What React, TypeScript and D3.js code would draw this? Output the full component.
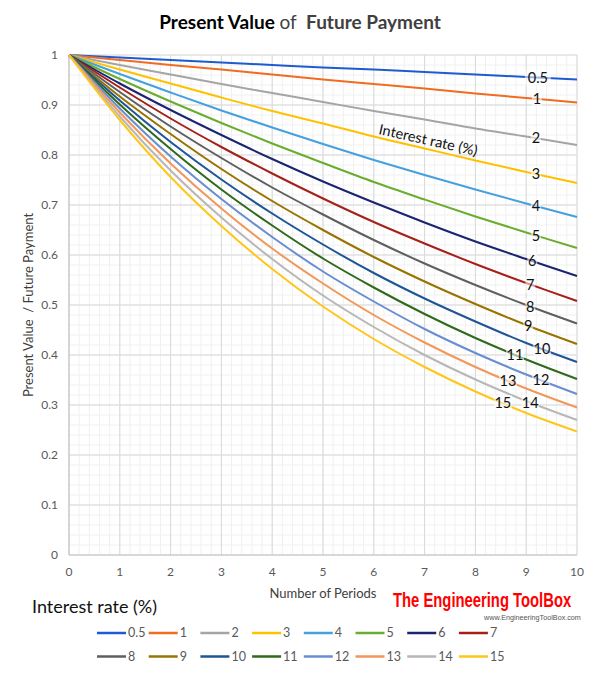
import React, { useEffect, useRef } from "react";
import * as d3 from "d3";

// periods on the x axis
const periods = [0, 1, 2, 3, 4, 5, 6, 7, 8, 9, 10];

// interest rates (%) and present value per unit of future payment, period 0..10
const rates = ["0.5", "1", "2", "3", "4", "5", "6", "7", "8", "9", "10", "11", "12", "13", "14", "15"];

const pv05 = [1, 0.995, 0.990, 0.985, 0.980, 0.975, 0.971, 0.966, 0.961, 0.956, 0.951];
const pv1 = [1, 0.990, 0.980, 0.971, 0.961, 0.951, 0.942, 0.933, 0.923, 0.914, 0.905];
const pv2 = [1, 0.980, 0.961, 0.942, 0.924, 0.906, 0.888, 0.871, 0.853, 0.837, 0.820];
const pv3 = [1, 0.971, 0.943, 0.915, 0.888, 0.863, 0.837, 0.813, 0.789, 0.766, 0.744];
const pv4 = [1, 0.962, 0.925, 0.889, 0.855, 0.822, 0.790, 0.760, 0.731, 0.703, 0.676];
const pv5 = [1, 0.952, 0.907, 0.864, 0.823, 0.784, 0.746, 0.711, 0.677, 0.645, 0.614];
const pv6 = [1, 0.943, 0.890, 0.840, 0.792, 0.747, 0.705, 0.665, 0.627, 0.592, 0.558];
const pv7 = [1, 0.935, 0.873, 0.816, 0.763, 0.713, 0.666, 0.623, 0.582, 0.544, 0.508];
const pv8 = [1, 0.926, 0.857, 0.794, 0.735, 0.681, 0.630, 0.583, 0.540, 0.500, 0.463];
const pv9 = [1, 0.917, 0.842, 0.772, 0.708, 0.650, 0.596, 0.547, 0.502, 0.460, 0.422];
const pv10 = [1, 0.909, 0.826, 0.751, 0.683, 0.621, 0.564, 0.513, 0.467, 0.424, 0.386];
const pv11 = [1, 0.901, 0.812, 0.731, 0.659, 0.593, 0.535, 0.482, 0.434, 0.391, 0.352];
const pv12 = [1, 0.893, 0.797, 0.712, 0.636, 0.567, 0.507, 0.452, 0.404, 0.361, 0.322];
const pv13 = [1, 0.885, 0.783, 0.693, 0.613, 0.543, 0.480, 0.425, 0.376, 0.333, 0.295];
const pv14 = [1, 0.877, 0.769, 0.675, 0.592, 0.519, 0.456, 0.400, 0.351, 0.308, 0.270];
const pv15 = [1, 0.870, 0.756, 0.658, 0.572, 0.497, 0.432, 0.376, 0.327, 0.284, 0.247];

const seriesValues = [pv05, pv1, pv2, pv3, pv4, pv5, pv6, pv7, pv8, pv9, pv10, pv11, pv12, pv13, pv14, pv15];

// where along the x axis each rate label sits on its curve
const labelAt = [9.23, 9.21, 9.19, 9.19, 9.19, 9.19, 9.12, 9.08, 9.08, 9.04, 9.31, 8.78, 9.29, 8.64, 9.08, 8.54];

const colors = [
  "#1f5bd0", "#ef6c22", "#a5a5a5", "#ffc000", "#45a0e0", "#6aad2e", "#1b2470", "#a52019",
  "#5f5f5f", "#997300", "#1f5596", "#2f6a1c", "#698ed0", "#f1975a", "#b7b7b7", "#ffc61a",
];

const yTicks = [0, 0.1, 0.2, 0.3, 0.4, 0.5, 0.6, 0.7, 0.8, 0.9, 1];

const W = 600;
const H = 677;
const FONT = "Lato, 'Open Sans', sans-serif";

const App: React.FC = () => {
  const svgRef = useRef<SVGSVGElement>(null);

  useEffect(() => {
    if (!svgRef.current) return;
    const svg = d3.select(svgRef.current);
    svg.selectAll("*").remove();

    const left = 69, right = 577, top = 55, bottom = 555;

    const x = d3.scaleLinear().domain([0, 10]).range([left, right]);
    const y = d3.scaleLinear().domain([0, 1]).range([bottom, top]);

    svg.append("rect").attr("width", W).attr("height", H).attr("fill", "#fff");

    // grid: minor then major
    const grid = svg.append("g");
    const minorX = d3.range(0, 10.001, 0.2);
    const minorY = d3.range(0, 1.0001, 0.02);
    grid.selectAll("line.mx").data(minorX).join("line")
      .attr("x1", d => x(d)).attr("x2", d => x(d))
      .attr("y1", top).attr("y2", bottom)
      .attr("stroke", "#f0f0f0").attr("stroke-width", 1);
    grid.selectAll("line.my").data(minorY).join("line")
      .attr("x1", left).attr("x2", right)
      .attr("y1", d => y(d)).attr("y2", d => y(d))
      .attr("stroke", "#f0f0f0").attr("stroke-width", 1);
    grid.selectAll("line.Mx").data(periods).join("line")
      .attr("x1", d => x(d)).attr("x2", d => x(d))
      .attr("y1", top).attr("y2", bottom)
      .attr("stroke", "#d9d9d9").attr("stroke-width", 1);
    grid.selectAll("line.My").data(yTicks).join("line")
      .attr("x1", left).attr("x2", right)
      .attr("y1", d => y(d)).attr("y2", d => y(d))
      .attr("stroke", "#d9d9d9").attr("stroke-width", 1);

    // axis lines
    svg.append("line").attr("x1", left).attr("x2", left).attr("y1", top).attr("y2", bottom)
      .attr("stroke", "#c8c8c8").attr("stroke-width", 1.2);
    svg.append("line").attr("x1", left).attr("x2", right).attr("y1", bottom).attr("y2", bottom)
      .attr("stroke", "#c8c8c8").attr("stroke-width", 1.2);

    // tick labels
    svg.append("g").selectAll("text").data(yTicks).join("text")
      .attr("x", left - 11).attr("y", d => y(d)).attr("dy", "0.35em")
      .attr("text-anchor", "end")
      .style("font-family", FONT).style("font-size", "12px").attr("fill", "#595959")
      .text(d => String(d));
    svg.append("g").selectAll("text").data(periods).join("text")
      .attr("x", d => x(d)).attr("y", bottom + 17).attr("dy", "0.35em")
      .attr("text-anchor", "middle")
      .style("font-family", FONT).style("font-size", "12px").attr("fill", "#595959")
      .text(d => String(d));

    // curves
    const line = d3.line<number>()
      .x((_, i) => x(periods[i]))
      .y(d => y(d))
      .curve(d3.curveCatmullRom.alpha(0.5));

    svg.append("g").selectAll("path").data(seriesValues).join("path")
      .attr("d", d => line(d))
      .attr("fill", "none")
      .attr("stroke", (_, i) => colors[i])
      .attr("stroke-width", 2);

    // rate labels sitting on the curves
    const valueAt = (vals: number[], t: number) => {
      const i = Math.min(Math.floor(t), vals.length - 2);
      const f = t - i;
      return vals[i] + (vals[i + 1] - vals[i]) * f;
    };
    const labels = svg.append("g");
    rates.forEach((r, i) => {
      const cx = x(labelAt[i]);
      const cy = y(valueAt(seriesValues[i], labelAt[i]));
      const w = r.length * 8 + 2;
      labels.append("rect")
        .attr("x", cx - w / 2).attr("y", cy - 8).attr("width", w).attr("height", 16)
        .attr("fill", "#fff").attr("opacity", 0.55);
      labels.append("text")
        .attr("x", cx).attr("y", cy).attr("dy", "0.35em")
        .attr("text-anchor", "middle")
        .style("font-family", FONT).style("font-size", "14.5px").attr("fill", "#111")
        .text(r);
    });

    svg.append("text")
      .attr("transform", "translate(378,134) rotate(12.5)")
      .style("font-family", FONT).style("font-size", "14.5px").attr("fill", "#111")
      .text("Interest rate (%)");

    // title
    const title = svg.append("text")
      .attr("x", W / 2).attr("y", 29).attr("text-anchor", "middle")
      .style("font-family", FONT).style("font-size", "19px").style("white-space", "pre");
    title.append("tspan").attr("font-weight", 700).attr("fill", "#000").text("Present Value ");
    title.append("tspan").attr("font-weight", 400).attr("fill", "#404040").text("of  ");
    title.append("tspan").attr("font-weight", 700).attr("fill", "#404040").text("Future Payment");

    // axis titles
    svg.append("text")
      .attr("x", 323).attr("y", 598).attr("text-anchor", "middle")
      .style("font-family", FONT).style("font-size", "13px").attr("fill", "#404040")
      .text("Number of Periods");
    svg.append("text")
      .attr("transform", "translate(33,305) rotate(-90)").attr("text-anchor", "middle")
      .style("font-family", FONT).style("font-size", "13px").attr("fill", "#404040")
      .style("white-space", "pre")
      .text("Present Value  / Future Payment");

    // branding, condensed by a horizontal squeeze
    svg.append("text")
      .attr("transform", "translate(393,607) scale(0.76,1)")
      .style("font-family", "'Liberation Sans', Arial, sans-serif")
      .style("font-size", "19.5px").style("font-weight", "bold").attr("fill", "#ff0000")
      .text("The Engineering ToolBox");
    svg.append("text")
      .attr("transform", "translate(484,620) scale(0.9,1)")
      .style("font-family", "'Liberation Sans', Arial, sans-serif")
      .style("font-size", "8px").attr("fill", "#555")
      .text("www.EngineeringToolBox.com");

    // legend
    svg.append("text")
      .attr("x", 32).attr("y", 613)
      .style("font-family", FONT).style("font-size", "18px").attr("fill", "#111")
      .text("Interest rate (%)");

    const legend = svg.append("g");
    rates.forEach((r, i) => {
      const col = i % 8;
      const row = Math.floor(i / 8);
      const lx = 97 + col * 51.7;
      const ly = 633 + row * 23.5;
      legend.append("line")
        .attr("x1", lx).attr("x2", lx + 29).attr("y1", ly).attr("y2", ly)
        .attr("stroke", colors[i]).attr("stroke-width", 2.5);
      legend.append("text")
        .attr("x", lx + 31).attr("y", ly).attr("dy", "0.35em")
        .style("font-family", FONT).style("font-size", "12.5px").attr("fill", "#595959")
        .text(r);
    });
  }, []);

  return (
    <svg
      ref={svgRef}
      width={W}
      height={H}
      viewBox={`0 0 ${W} ${H}`}
      style={{ position: "absolute", left: 0, top: 0, display: "block" }}
    />
  );
};

export default App;
